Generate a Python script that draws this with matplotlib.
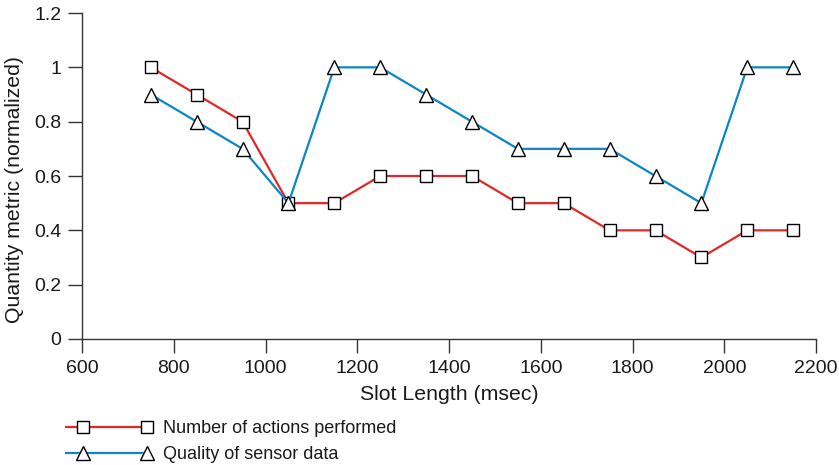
import matplotlib
matplotlib.use("Agg")
import numpy as np
import matplotlib.pyplot as plt
from matplotlib.ticker import FuncFormatter
from matplotlib.legend_handler import HandlerLine2DCompound

slot_length = [750, 850, 950, 1050, 1150, 1250, 1350, 1450, 1550, 1650, 1750, 1850, 1950, 2050, 2150]
actions = [1.0, 0.9, 0.8, 0.5, 0.5, 0.6, 0.6, 0.6, 0.5, 0.5, 0.4, 0.4, 0.3, 0.4, 0.4]
quality = [0.9, 0.8, 0.7, 0.5, 1.0, 1.0, 0.9, 0.8, 0.7, 0.7, 0.7, 0.6, 0.5, 1.0, 1.0]
x_ticks = [600, 800, 1000, 1200, 1400, 1600, 1800, 2000, 2200]
y_ticks = [0, 0.2, 0.4, 0.6, 0.8, 1.0, 1.2]

plt.rcParams['font.family'] = ['Liberation Sans', 'DejaVu Sans']
RED = '#e2272b'
BLUE = '#0b86c6'
DARK = '#333333'


class AsymHandler(HandlerLine2DCompound):
    def get_xdata(self, legend, xdescent, ydescent, width, height, fontsize):
        xdata = np.array([-xdescent, -xdescent + width])
        xm = np.array([-xdescent + 0.21 * width, -xdescent + width])
        return xdata, xm


fig = plt.figure(figsize=(8.39, 4.65), dpi=100)
ax = fig.add_axes([0.0977, 0.271, 0.875, 0.701])

l1, = ax.plot(slot_length, actions, color=RED, lw=1.6, marker='s', ms=9,
              mfc='white', mec='black', mew=1.0, label='Number of actions performed', zorder=3)
l2, = ax.plot(slot_length, quality, color=BLUE, lw=1.6, marker='^', ms=10.5,
              mfc='white', mec='black', mew=1.0, label='Quality of sensor data', zorder=3)

ax.set_xlim(600, 2200)
ax.set_ylim(0, 1.2)
ax.set_xticks(x_ticks)
ax.set_yticks(y_ticks)
ax.yaxis.set_major_formatter(FuncFormatter(lambda v, p: '%g' % v))

for s in ['top', 'right']:
    ax.spines[s].set_visible(False)
for s in ['left', 'bottom']:
    ax.spines[s].set_color(DARK)
    ax.spines[s].set_linewidth(1.0)
ax.tick_params(direction='out', length=10, width=1.0, color=DARK,
               labelsize=14, labelcolor='#1a1a1a', pad=5)

ax.set_xlabel('Slot Length (msec)', fontsize=15.3, color='#1a1a1a', labelpad=6)
ax.set_ylabel('Quantity metric (normalized)', fontsize=15.3, color='#1a1a1a', labelpad=3)
ax.yaxis.set_label_coords(-0.0785, 0.46)

hm = {l1: AsymHandler(numpoints=2), l2: AsymHandler(numpoints=2)}
leg = fig.legend(handles=[l1, l2], loc='upper left', bbox_to_anchor=(0.0787, 0.096), frameon=False,
                 handler_map=hm, handlelength=4.5, fontsize=13, labelspacing=0.5,
                 handletextpad=0.88, borderaxespad=0, borderpad=0)
for t in leg.get_texts():
    t.set_color('#1a1a1a')

fig.savefig('out.png', dpi=100)
